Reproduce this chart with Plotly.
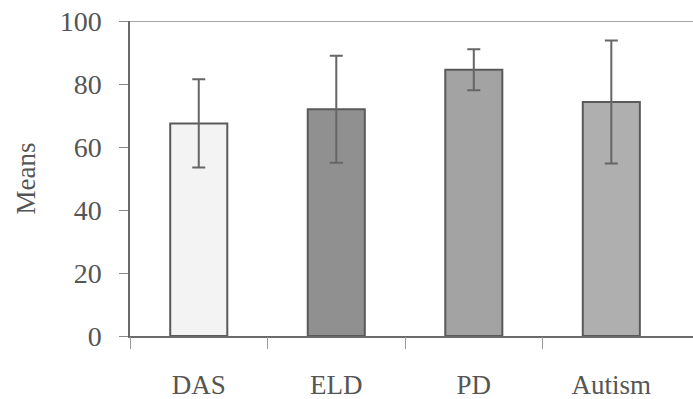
import plotly.graph_objects as go

# Group means with their error bar half-widths
categories = ["DAS", "ELD", "PD", "Autism"]
means = [67.5, 72.0, 84.5, 74.3]
errors = [14.0, 17.0, 6.5, 19.5]
bar_colors = ["#f3f3f3", "#909090", "#a3a3a3", "#afafaf"]
y_ticks = [0, 20, 40, 60, 80, 100]
# Separator ticks between category slots on the x axis
x_separators = [-0.5, 0.5, 1.5, 2.5]

Y_MAX = 100
X_RANGE = [-0.5, 3.594]
FONT = "Liberation Serif, Times New Roman, serif"
TEXT = "#555555"
LINE = "#6a6a6a"

fig = go.Figure(
    go.Bar(
        x=categories,
        y=means,
        marker=dict(color=bar_colors, line=dict(color="#5a5a5a", width=2)),
        error_y=dict(type="data", array=errors, visible=True,
                     color="#666666", thickness=2, width=6.5),
        width=0.415,
    )
)

# invisible trace to activate the separator-tick axis
fig.add_trace(go.Scatter(x=[X_RANGE[0]], y=[0], xaxis="x2", mode="markers",
                         marker=dict(opacity=0), hoverinfo="skip"))

fig.update_layout(
    width=693,
    height=399,
    margin=dict(l=130, r=0, t=21, b=63),
    paper_bgcolor="white",
    plot_bgcolor="white",
    font=dict(family=FONT, size=28, color=TEXT),
    showlegend=False,
    shapes=[
        dict(type="line", xref="paper", yref="y", x0=0, x1=1,
             y0=Y_MAX, y1=Y_MAX, line=dict(color="#8a8a8a", width=1.5)),
    ],
    xaxis=dict(
        range=X_RANGE, automargin=False,
        showline=True, linecolor=LINE, linewidth=1.5,
        ticks="", ticklabelstandoff=24,
        tickfont=dict(family=FONT, size=27, color=TEXT),
        showgrid=False, zeroline=False,
    ),
    xaxis2=dict(
        overlaying="x", side="bottom", anchor="y", automargin=False,
        range=X_RANGE, tickvals=x_separators, showticklabels=False,
        ticks="outside", ticklen=12, tickcolor="#999999", tickwidth=1,
        showline=False, showgrid=False, zeroline=False,
    ),
    yaxis=dict(
        range=[0, Y_MAX], automargin=False,
        tickvals=y_ticks,
        title=dict(text="Means", standoff=16,
                   font=dict(family=FONT, size=27, color=TEXT)),
        showline=True, linecolor=LINE, linewidth=1.5,
        ticks="outside", ticklen=9, tickcolor="#888888", tickwidth=1,
        ticklabelstandoff=12,
        tickfont=dict(family=FONT, size=28, color=TEXT),
        showgrid=False, zeroline=False,
    ),
)

fig.write_html("out.html")
